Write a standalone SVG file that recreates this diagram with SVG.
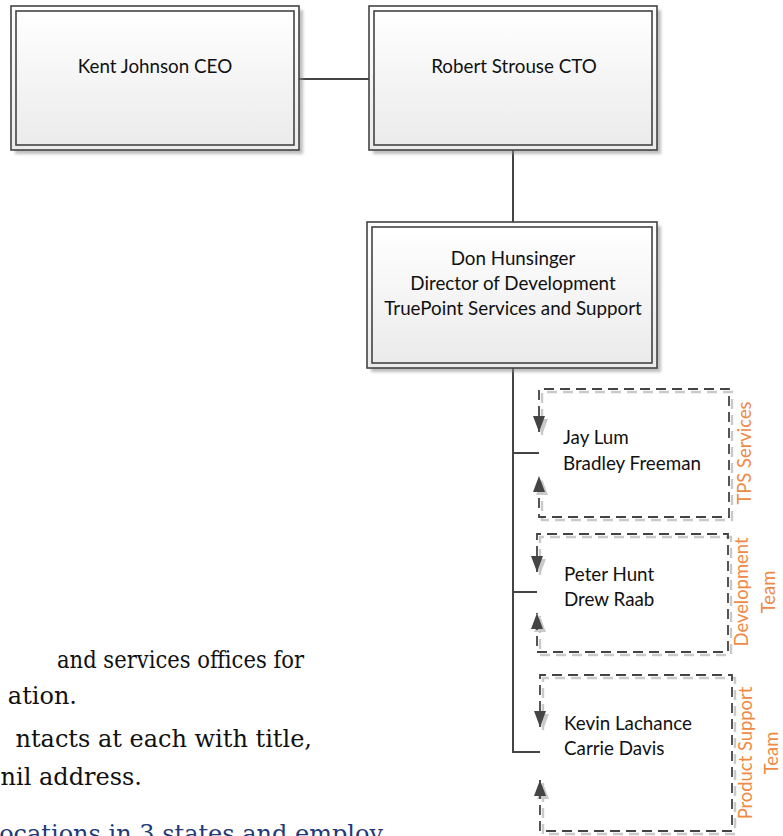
<svg xmlns="http://www.w3.org/2000/svg" width="783" height="836" viewBox="0 0 783 836">
<style>
.box-t{font-family:Lato,"Open Sans","DejaVu Sans",sans-serif;font-size:18.8px;fill:#111}
.team{font-family:Lato,"Open Sans","DejaVu Sans",sans-serif;font-size:18.4px;fill:#EE8A45;text-anchor:middle}
.doc{font-family:"DejaVu Serif","Liberation Serif",serif;font-size:24px;fill:#111}
.blue{fill:#1F3A78}
.outer{fill:url(#g);stroke:#444;stroke-width:1.6}
.inner{fill:url(#g);stroke:#444;stroke-width:1.6}
.shadow{fill:#8a8a8a;opacity:0.55;filter:url(#blur)}
.conn{fill:none;stroke:#444;stroke-width:2}
.dash{fill:none;stroke:#444;stroke-width:1.8;stroke-dasharray:10 6;marker-start:url(#arrS);marker-end:url(#arr)}
.dashsh{fill:none;stroke:#c9c9c9;stroke-width:2.4;stroke-dasharray:10 6;marker-start:url(#arrSs);marker-end:url(#arrs)}
</style>
<defs>
<linearGradient id="g" x1="0" y1="0" x2="0" y2="1">
<stop offset="0" stop-color="#ffffff"/>
<stop offset="1" stop-color="#ebebeb"/>
</linearGradient>
<filter id="blur" x="-10%" y="-10%" width="120%" height="120%"><feGaussianBlur stdDeviation="1.5"/></filter>
<marker id="arr" markerUnits="userSpaceOnUse" markerWidth="16" markerHeight="14" viewBox="0 0 16 14" refX="16" refY="7" orient="auto"><path d="M0,1 L16,7 L0,13 Z" fill="#444"/></marker>
<marker id="arrS" markerUnits="userSpaceOnUse" markerWidth="16" markerHeight="14" viewBox="0 0 16 14" refX="16" refY="7" orient="auto-start-reverse"><path d="M0,1 L16,7 L0,13 Z" fill="#444"/></marker>
<marker id="arrs" markerUnits="userSpaceOnUse" markerWidth="16" markerHeight="14" viewBox="0 0 16 14" refX="16" refY="7" orient="auto"><path d="M0,1 L16,7 L0,13 Z" fill="#c9c9c9"/></marker>
<marker id="arrSs" markerUnits="userSpaceOnUse" markerWidth="16" markerHeight="14" viewBox="0 0 16 14" refX="16" refY="7" orient="auto-start-reverse"><path d="M0,1 L16,7 L0,13 Z" fill="#c9c9c9"/></marker>
</defs>
<rect width="783" height="836" fill="#fff"/>

<g id="doc-text">
<text class="doc" x="57" y="668" textLength="247" lengthAdjust="spacingAndGlyphs">and services offices for</text>
<text class="doc" x="77" y="704" text-anchor="end">ation.</text>
<text class="doc" x="312" y="747" text-anchor="end">ntacts at each with title,</text>
<text class="doc" x="142" y="785" text-anchor="end">nil address.</text>
<text class="doc blue" x="383" y="842" text-anchor="end">ocations in 3 states and employ</text>
</g>

<g id="connectors">
<path class="conn" d="M299,79 H369"/>
<path class="conn" d="M513,150 V222"/>
<path class="conn" d="M513,368 V752 H540"/>
<path class="conn" d="M513,453 H539"/>
<path class="conn" d="M513,592 H537"/>
</g>

<g id="kent">
<rect class="shadow" x="15" y="10" width="288" height="144"/>
<rect class="outer" x="11" y="6" width="288" height="144"/>
<rect class="inner" x="16" y="11" width="278" height="134"/>
<text class="box-t" x="155" y="73" text-anchor="middle">Kent Johnson CEO</text>
</g>

<g id="robert">
<rect class="shadow" x="373" y="10" width="288" height="144"/>
<rect class="outer" x="369" y="6" width="288" height="144"/>
<rect class="inner" x="374" y="11" width="278" height="134"/>
<text class="box-t" x="514" y="73" text-anchor="middle">Robert Strouse CTO</text>
</g>

<g id="don">
<rect class="shadow" x="371" y="226" width="290" height="146"/>
<rect class="outer" x="367" y="222" width="290" height="146"/>
<rect class="inner" x="372" y="227" width="280" height="136"/>
<text class="box-t" text-anchor="middle"><tspan x="513" y="265">Don Hunsinger</tspan><tspan x="513" y="290">Director of Development</tspan><tspan x="513" y="315">TruePoint Services and Support</tspan></text>
</g>

<g id="tps">
<path class="dashsh" transform="translate(3,3)" d="M539,432 V389 H729 V517 H539 V476"/>
<path class="dash" d="M539,432 V389 H729 V517 H539 V476"/>
<text class="box-t"><tspan x="563" y="444">Jay Lum</tspan><tspan x="563" y="470">Bradley Freeman</tspan></text>
<text class="team" transform="translate(751,453) rotate(-90)" x="0" y="0">TPS Services</text>
</g>

<g id="dev">
<path class="dashsh" transform="translate(3,3)" d="M537,572 V534 H728 V652 H537 V613"/>
<path class="dash" d="M537,572 V534 H728 V652 H537 V613"/>
<text class="box-t"><tspan x="564" y="581">Peter Hunt</tspan><tspan x="564" y="606">Drew Raab</tspan></text>
<text class="team" transform="translate(748,592) rotate(-90)"><tspan x="0" y="0">Development</tspan><tspan x="0" y="27">Team</tspan></text>
</g>

<g id="product">
<path class="dashsh" transform="translate(3,3)" d="M540,727 V675 H732 V831 H540 V780"/>
<path class="dash" d="M540,727 V675 H732 V831 H540 V780"/>
<text class="box-t"><tspan x="564" y="730">Kevin Lachance</tspan><tspan x="564" y="755">Carrie Davis</tspan></text>
<text class="team" transform="translate(752,753) rotate(-90)"><tspan x="0" y="0">Product Support</tspan><tspan x="0" y="26">Team</tspan></text>
</g>
</svg>
